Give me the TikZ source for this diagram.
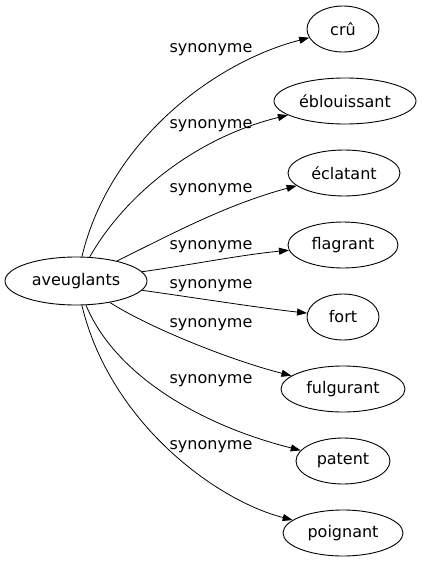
\documentclass[tikz,border=0pt]{standalone}
\usepackage{fontspec}
\setmainfont{DejaVu Sans}
\usetikzlibrary{shapes.geometric,arrows.meta}
\tikzset{
  nd/.style={ellipse, draw, line width=0.9pt, inner sep=0pt, minimum height=46pt, font=\fontsize{16}{19}\selectfont},
  lbl/.style={inner sep=0pt, font=\fontsize{16}{19}\selectfont},
  edge/.style={line width=0.8pt, -{Triangle[length=10pt,width=7pt]}}
}
\begin{document}
\begin{tikzpicture}[x=1pt,y=-1pt]
\useasboundingbox (0,0) rectangle (422,563);
\node[nd, minimum width=142pt, minimum height=48pt] (av) at (76,281) {aveuglants};
\node[nd, minimum width=72pt] (cru) at (343,29) {crû};
\node[nd, minimum width=142pt] (ebl) at (345,101) {éblouissant};
\node[nd, minimum width=112pt] (ecl) at (344,173) {éclatant};
\node[nd, minimum width=110pt] (fla) at (343,245) {flagrant};
\node[nd, minimum width=72pt] (fort) at (343,317) {fort};
\node[nd, minimum width=124pt] (ful) at (343,389) {fulgurant};
\node[nd, minimum width=94pt] (pat) at (343,461) {patent};
\node[nd, minimum width=120pt] (poi) at (343,533) {poignant};

\draw[edge] (av) .. controls (110,140) and (215,62) .. (cru);
\draw[edge] (av) .. controls (125,195) and (195,138) .. (ebl);
\draw[edge] (av) .. controls (170,235) and (225,205) .. (ecl);
\draw[edge] (av) .. controls (190,265) and (240,255) .. (fla);
\draw[edge] (av) .. controls (190,297) and (260,308) .. (fort);
\draw[edge] (av) .. controls (150,328) and (230,360) .. (ful);
\draw[edge] (av) .. controls (115,375) and (200,425) .. (pat);
\draw[edge] (av) .. controls (110,422) and (215,500) .. (poi);

\node[lbl] (l1) at (211,50) {synonyme};
\node[lbl] (l2) at (211,126) {synonyme};
\node[lbl] (l3) at (211,190) {synonyme};
\node[lbl] (l4) at (211,247) {synonyme};
\node[lbl] (l5) at (211,286) {synonyme};
\node[lbl] (l6) at (211,325) {synonyme};
\node[lbl] (l7) at (211,381) {synonyme};
\node[lbl] (l8) at (211,447) {synonyme};
\end{tikzpicture}
\end{document}
